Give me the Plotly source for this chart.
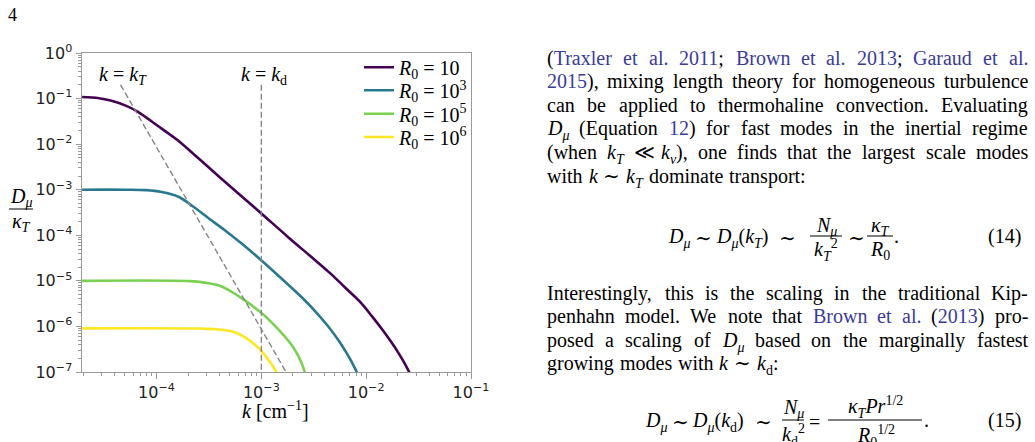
import re
import plotly.graph_objects as go

# ---------------- data ----------------
legend_labels = ["<i>R</i><sub>0</sub> = 10", "<i>R</i><sub>0</sub> = 10<sup>3</sup>",
                 "<i>R</i><sub>0</sub> = 10<sup>5</sup>", "<i>R</i><sub>0</sub> = 10<sup>6</sup>"]
colors = ["#440154", "#2a788e", "#7ad151", "#fde725"]

k_R10 = [1.95e-5, 2.82e-5, 3.72e-5, 5.01e-5, 6.65e-5, 1.0e-4, 1.58e-4, 2.51e-4, 3.98e-4, 6.31e-4,
         1.0e-3, 1.78e-3, 3.16e-3, 4.52e-3, 6.29e-3, 8.75e-3, 1.138e-2, 1.418e-2, 1.728e-2, 2.016e-2,
         2.299e-2, 2.567e-2, 2.742e-2]
D_R10 = [0.108, 0.102, 0.0891, 0.0708, 0.0513, 0.0263, 0.0123, 4.90e-3, 1.91e-3, 7.59e-4,
         3.02e-4, 9.33e-5, 3.02e-5, 1.476e-5, 7.16e-6, 3.46e-6, 1.663e-6, 8.63e-7, 4.59e-7, 2.70e-7,
         1.633e-7, 1.01e-7, 7.4e-8]

k_R1e3 = [1.95e-5, 5.01e-5, 7.94e-5, 1.12e-4, 1.60e-4, 2.15e-4, 3.16e-4, 4.48e-4, 6.31e-4,
          9.72e-4, 1.508e-3, 2.34e-3, 3.253e-3, 4.33e-3, 5.395e-3, 6.43e-3, 7.336e-3, 8.10e-3, 8.46e-3]
D_R1e3 = [1.0e-3, 1.0e-3, 9.77e-4, 8.91e-4, 7.08e-4, 4.57e-4, 2.34e-4, 1.29e-4, 6.92e-5,
          2.99e-5, 1.205e-5, 4.71e-6, 2.178e-6, 1.009e-6, 5.105e-7, 2.729e-7, 1.607e-7, 1.009e-7, 7.46e-8]

k_R1e5 = [1.95e-5, 2.087e-4, 2.903e-4, 3.753e-4, 5.027e-4, 6.732e-4, 9.72e-4, 1.265e-3, 1.622e-3,
          1.920e-3, 2.176e-3, 2.392e-3, 2.555e-3, 2.670e-3]
D_R1e5 = [1.0e-5, 9.85e-6, 9.13e-6, 8.17e-6, 6.04e-6, 3.93e-6, 2.09e-6, 1.20e-6, 6.54e-7,
          4.05e-7, 2.60e-7, 1.674e-7, 1.117e-7, 8.25e-8]

k_R1e6 = [1.95e-5, 2.601e-4, 3.753e-4, 5.404e-4, 6.988e-4, 8.709e-4, 1.038e-3, 1.184e-3, 1.307e-3,
          1.389e-3, 1.459e-3]
D_R1e6 = [9.08e-7, 8.99e-7, 8.64e-7, 7.61e-7, 5.77e-7, 3.95e-7, 2.64e-7, 1.76e-7, 1.268e-7,
          1.01e-7, 7.84e-8]

series_k = [k_R10, k_R1e3, k_R1e5, k_R1e6]
series_D = [D_R10, D_R1e3, D_R1e5, D_R1e6]

kT_line_k = [4.54e-5, 1.72e-3]
kT_line_D = [0.2, 1e-7]
kd_line_k = [1e-3, 1e-3]
kd_line_D = [0.2, 1e-7]

x_tickvals = [1e-4, 1e-3, 1e-2, 1e-1]
x_ticktext = ["10<sup>−4</sup>", "10<sup>−3</sup>", "10<sup>−2</sup>", "10<sup>−1</sup>"]
y_tickvals = [1e0, 1e-1, 1e-2, 1e-3, 1e-4, 1e-5, 1e-6, 1e-7]
y_ticktext = ["10<sup>0</sup>", "10<sup>−1</sup>", "10<sup>−2</sup>", "10<sup>−3</sup>",
              "10<sup>−4</sup>", "10<sup>−5</sup>", "10<sup>−6</sup>", "10<sup>−7</sup>"]
x_minor = [m * 10.0 ** e for e in range(-5, -1) for m in range(2, 10)]
y_minor = [m * 10.0 ** e for e in range(-7, 0) for m in range(2, 10)]

# ---------------- geometry helpers ----------------
W, H = 1035, 442
L, R, T, B = 82, 471, 53, 372


def px(x):
    return (x - L) / (R - L)


def py(y):
    return (B - y) / (B - T)


SERIF = "Liberation Serif, DejaVu Serif, serif"
SANS = "DejaVu Sans, sans-serif"
FS = 20

fig = go.Figure()
for i in range(4):
    fig.add_trace(go.Scatter(
        x=series_k[i], y=series_D[i], mode="lines",
        line=dict(color=colors[i], width=2.6, shape="spline", smoothing=1.0),
        name=legend_labels[i], legend="legend" if i == 0 else f"legend{i+1}",
        hoverinfo="skip"))

fig.add_trace(go.Scatter(x=kT_line_k, y=kT_line_D, mode="lines", showlegend=False,
                         line=dict(color="#858585", width=1.4, dash="6px,3px"), hoverinfo="skip"))
fig.add_trace(go.Scatter(x=kd_line_k, y=kd_line_D, mode="lines", showlegend=False,
                         line=dict(color="#858585", width=1.4, dash="6px,3px"), hoverinfo="skip"))

axis_common = dict(type="log", showgrid=False, zeroline=False, showline=True, linecolor="#9a9a9a",
                   linewidth=1, mirror=True, ticks="outside", ticklen=5.5, tickwidth=1,
                   tickcolor="#9a9a9a", tickfont=dict(family=SANS, size=16, color="#222"),
                   tickmode="array")
fig.update_xaxes(**axis_common, range=[-4.711, -1], tickvals=x_tickvals, ticktext=x_ticktext,
                 minor=dict(tickmode="array", tickvals=x_minor, ticks="outside", ticklen=3,
                            tickwidth=1, tickcolor="#9a9a9a", showgrid=False))
fig.update_yaxes(**axis_common, range=[-7, 0], tickvals=y_tickvals, ticktext=y_ticktext,
                 minor=dict(tickmode="array", tickvals=y_minor, ticks="outside", ticklen=3,
                            tickwidth=1, tickcolor="#9a9a9a", showgrid=False))

legend_rows = [67.3, 90.3, 113.8, 137.0]
legends = {}
for i, yr in enumerate(legend_rows):
    key = "legend" if i == 0 else f"legend{i+1}"
    legends[key] = dict(x=px(359), xanchor="left", y=py(yr), yanchor="middle",
                        bgcolor="rgba(0,0,0,0)", borderwidth=0,
                        font=dict(family=SERIF, size=FS, color="black"))

annotations = []
shapes = []


def ann(text, x, y, xanchor="center", size=FS, family=SERIF, color="black", yanchor="middle"):
    annotations.append(dict(text=text, x=px(x), y=py(y), xref="paper", yref="paper",
                            xanchor=xanchor, yanchor=yanchor, showarrow=False,
                            borderpad=0, borderwidth=0,
                            font=dict(family=family, size=size, color=color)))


def hline(x0, x1, y):
    shapes.append(dict(type="line", xref="paper", yref="paper", x0=px(x0), x1=px(x1),
                       y0=py(y), y1=py(y), line=dict(color="black", width=1)))


# page number
ann("4", 12, 15, size=18)

# chart labels
ann("<i>k</i> = <i>k</i><sub><i>T</i></sub>", 122.5, 75)
ann("<i>k</i> = <i>k</i><sub>d</sub>", 263.5, 75)
ann("<i>k</i> [cm<sup>−1</sup>]", 275, 410)
ann("<i>D</i><sub><i>μ</i></sub>", 21, 197)
hline(9, 33, 209)
ann("<i>κ</i><sub><i>T</i></sub>", 21, 222)

# ---------------- right-column text ----------------
BLUE = "#3b3b9b"


def C(s):
    return f'<span style="color:{BLUE}">{s}</span>'


Dmu = "<i>D</i><sub><i>μ</i></sub>"
kT = "<i>k</i><sub><i>T</i></sub>"
knu = "<i>k</i><sub><i>ν</i></sub>"
kd = "<i>k</i><sub>d</sub>"
kk = "<i>k</i>"

text_lines = [
    (61.0, True, ["(" + C("Traxler"), C("et"), C("al."), C("2011") + ";", C("Brown"), C("et"), C("al."),
                  C("2013") + ";", C("Garaud"), C("et"), C("al.")]),
    (84.6, True, [C("2015") + "),", "mixing", "length", "theory", "for", "homogeneous", "turbulence"]),
    (108.2, True, "can be applied to thermohaline convection. Evaluating".split()),
    (131.8, True, [Dmu, "(Equation", C("12") + ")", "for", "fast", "modes", "in", "the", "inertial", "regime"]),
    (155.4, True, ["(when", kT, "≪", knu + "),", "one", "finds", "that", "the", "largest", "scale", "modes"]),
    (179.0, False, ["with", kk, "∼", kT, "dominate", "transport:"]),
    (296.0, True, "Interestingly, this is the scaling in the traditional Kip-".split()),
    (319.6, True, ["penhahn", "model.", "We", "note", "that", C("Brown"), C("et"), C("al."),
                   "(" + C("2013") + ")", "pro-"]),
    (343.2, True, ["posed", "a", "scaling", "of", Dmu, "based", "on", "the", "marginally", "fastest"]),
    (366.8, False, ["growing", "modes", "with", kk, "∼", kd + ":"]),
]

ROMAN = {' ': 250, '(': 333, ')': 333, ',': 250, '.': 250, ';': 278, ':': 278, '-': 333,
         '0': 500, '1': 500, '2': 500, '3': 500, '4': 500, '5': 500, '6': 500, '7': 500, '8': 500, '9': 500,
         'A': 722, 'B': 667, 'C': 667, 'D': 722, 'E': 611, 'F': 556, 'G': 722, 'H': 722, 'I': 333, 'J': 389,
         'K': 722, 'L': 611, 'M': 889, 'N': 722, 'O': 722, 'P': 556, 'Q': 722, 'R': 667, 'S': 556, 'T': 611,
         'U': 722, 'V': 722, 'W': 944, 'X': 722, 'Y': 722, 'Z': 611,
         'a': 444, 'b': 500, 'c': 444, 'd': 500, 'e': 444, 'f': 333, 'g': 500, 'h': 500, 'i': 278, 'j': 278,
         'k': 500, 'l': 278, 'm': 778, 'n': 500, 'o': 500, 'p': 500, 'q': 500, 'r': 333, 's': 389, 't': 278,
         'u': 500, 'v': 500, 'w': 722, 'x': 500, 'y': 500, 'z': 444,
         'μ': 520, 'ν': 480, 'κ': 500, '∼': 838, '≪': 838}
ITAL = {'k': 444, 'D': 722, 'T': 556, 'N': 667, 'R': 611, 'P': 611, 'r': 389, 'μ': 500, 'ν': 444, 'κ': 480}


def units(html):
    total, depth, ital = 0.0, 0, False
    for tok in re.split(r'(<[^>]+>)', html):
        if tok.startswith('<'):
            closing = tok.startswith('</')
            name = tok.strip('<>/').split()[0]
            if name in ('sub', 'sup'):
                depth += -1 if closing else 1
            if name == 'i':
                ital = not closing
            continue
        for ch in tok:
            w = ITAL[ch] if (ital and ch in ITAL) else ROMAN.get(ch, 500)
            total += w * (0.7 ** depth)
    return total / 1000.0


PAD = '<span style="color:rgba(0,0,0,0)"><sub>.</sub><sup>.</sup></span>'
X0, X1 = 547, 1028
YOFF = 0.1175 * FS

for yline, justify, words in text_lines:
    widths = [units(w) * FS for w in words]
    if justify:
        gap = (X1 - X0 - sum(widths)) / (len(words) - 1)
    else:
        gap = 6.0
    x = X0
    for w, wd in zip(words, widths):
        ann(w + PAD, x, yline - YOFF, xanchor="left")
        x += wd + gap

# Equation 14
y14 = 239
ann(Dmu + PAD, 668, y14 - YOFF, xanchor="left")
ann("∼", 703, y14 - 1)
ann(Dmu + "(" + kT + ")" + PAD, 716, y14 - YOFF, xanchor="left")
ann("∼", 787, y14 - 1)
ann("<i>N</i><sub><i>μ</i></sub>", 826, 226)
hline(810, 842, 236)
ann(kT + "<sup>2</sup>", 826, 250)
ann("∼", 856, y14 - 1)
ann("<i>κ</i><sub><i>T</i></sub>", 880, 226)
hline(867, 893, 236)
ann("<i>R</i><sub>0</sub>", 880, 250)
ann("." + PAD, 894, y14 - YOFF, xanchor="left")
ann("(14)" + PAD, 1028, y14 - YOFF, xanchor="right")

# Equation 15
y15 = 423
ann(Dmu + PAD, 645, y15 - YOFF, xanchor="left")
ann("∼", 680, y15 - 1)
ann(Dmu + "(" + kd + ")" + PAD, 692, y15 - YOFF, xanchor="left")
ann("∼", 763, y15 - 1)
ann("<i>N</i><sub><i>μ</i></sub>", 793, 408)
hline(782, 804, 420)
ann(kd + "<sup>2</sup>", 793, 435)
ann("=", 814, y15 - 1)
ann("<i>κ</i><sub><i>T</i></sub><i>Pr</i><sup>1/2</sup>", 875, 407)
hline(828, 922, 420)
ann("<i>R</i><sub>0</sub><sup>1/2</sup>", 876, 436)
ann("." + PAD, 924, y15 - YOFF, xanchor="left")
ann("(15)" + PAD, 1028, y15 - YOFF, xanchor="right")

fig.update_layout(
    width=W, height=H, autosize=False,
    margin=dict(l=L, r=W - R, t=T, b=H - B, pad=0),
    paper_bgcolor="white", plot_bgcolor="white",
    annotations=annotations, shapes=shapes,
    **legends,
)

fig.write_html("out.html")
